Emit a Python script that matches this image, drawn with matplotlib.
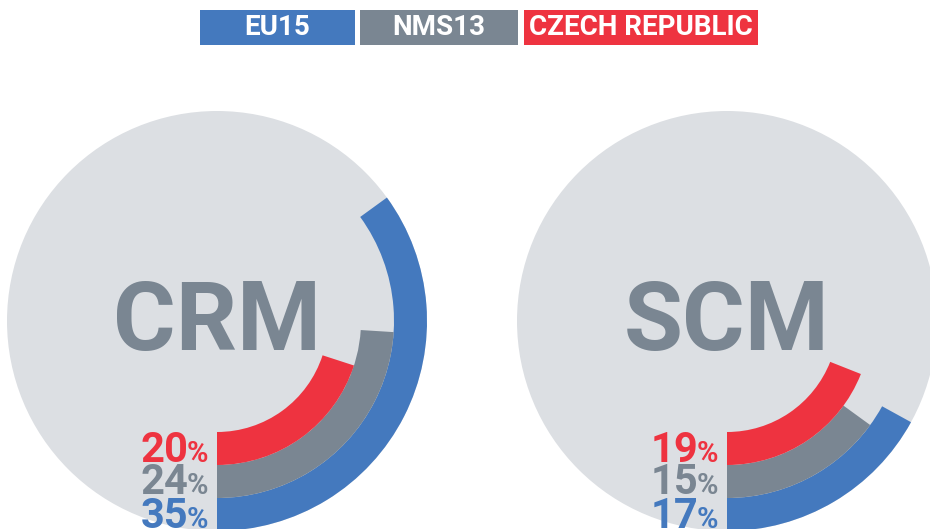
import matplotlib
matplotlib.use("Agg")
import matplotlib.pyplot as plt
from matplotlib.patches import Circle, Wedge, Rectangle

plt.rcParams['font.family'] = ['Roboto', 'DejaVu Sans']

categories = ['CRM', 'SCM']
series_names = ['EU15', 'NMS13', 'CZECH REPUBLIC']
eu15 = [35, 17]
nms13 = [24, 15]
czech = [20, 19]

colors = {'EU15': '#4479BE', 'NMS13': '#7A8692', 'CZECH REPUBLIC': '#EE3340'}
circle_color = '#DCDFE3'
title_color = '#7A8692'

W, H = 930, 529
fig = plt.figure(figsize=(W / 100, H / 100), dpi=100)
ax = fig.add_axes([0, 0, 1, 1])
ax.set_xlim(0, W)
ax.set_ylim(0, H)
ax.set_aspect('equal')
ax.axis('off')

centers_x = [217, 727]
cy = H - 321
R = 210
band = 33
ring_outer = [R, R - band, R - 2 * band]
series_vals = [eu15, nms13, czech]

fig.canvas.draw()
renderer = fig.canvas.get_renderer()

for i, cat in enumerate(categories):
    cx = centers_x[i]
    ax.add_patch(Circle((cx, cy), R, color=circle_color, lw=0, zorder=1))
    ax.text(cx, H - 350, cat, ha='center', va='baseline', fontsize=69,
            fontweight='bold', color=title_color, zorder=3)
    for j, name in enumerate(series_names):
        v = series_vals[j][i]
        ro = ring_outer[j]
        ax.add_patch(Wedge((cx, cy), ro, 270, 270 + 360 * v / 100, width=band,
                           color=colors[name], lw=0, zorder=2))
        ymid = cy - (ro - band / 2)
        xr = cx - 9
        pct = ax.text(xr, ymid - 13, '%', ha='right', va='baseline', fontsize=21,
                      fontweight='bold', color=colors[name], zorder=3)
        bb = pct.get_window_extent(renderer=renderer)
        ax.text(xr - bb.width + 2, ymid - 13, str(v), ha='right', va='baseline',
                fontsize=30, fontweight='bold', color=colors[name], zorder=3)

legend_boxes = [(200, 355), (360, 518), (524, 758)]
for (x0, x1), name in zip(legend_boxes, series_names):
    ax.add_patch(Rectangle((x0, H - 45), x1 - x0, 35, color=colors[name], lw=0, zorder=2))
    ax.text((x0 + x1) / 2, H - 27.5, name, ha='center', va='center', fontsize=20,
            fontweight='bold', color='white', zorder=3)

fig.savefig('out.png', dpi=100)
